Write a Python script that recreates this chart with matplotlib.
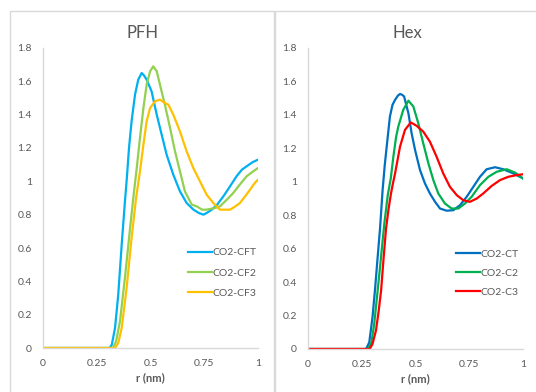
import matplotlib
matplotlib.use("Agg")
import matplotlib.pyplot as plt
from matplotlib.patches import Rectangle

plt.rcParams['font.family'] = ['Lato', 'DejaVu Sans']

TEXT = '#595959'
AXIS = '#d9d9d9'

# ---- PFH panel ----
pfh_title = "PFH"
cft_r = [0, 0.31, 0.32, 0.335, 0.35, 0.366, 0.38, 0.39, 0.40, 0.412, 0.428, 0.443, 0.459, 0.47,
         0.482, 0.505, 0.529, 0.552, 0.575, 0.606, 0.637, 0.668, 0.70, 0.725, 0.746, 0.761,
         0.785, 0.81, 0.839, 0.87, 0.90, 0.925, 0.947, 0.975, 1.0]
cft_g = [0, 0, 0.02, 0.12, 0.32, 0.62, 0.86, 1.02, 1.20, 1.36, 1.52, 1.61, 1.65, 1.635,
         1.61, 1.54, 1.40, 1.28, 1.16, 1.04, 0.94, 0.87, 0.83, 0.81, 0.80, 0.81,
         0.83, 0.86, 0.91, 0.97, 1.03, 1.07, 1.09, 1.115, 1.13]

cf2_r = [0, 0.325, 0.34, 0.358, 0.381, 0.405, 0.42, 0.436, 0.451, 0.467, 0.482, 0.498, 0.513,
         0.529, 0.544, 0.567, 0.591, 0.614, 0.637, 0.66, 0.692, 0.715, 0.74, 0.76, 0.78, 0.80,
         0.823, 0.855, 0.885, 0.915, 0.947, 0.978, 1.0]
cf2_g = [0, 0, 0.04, 0.16, 0.42, 0.72, 0.90, 1.08, 1.26, 1.44, 1.58, 1.66, 1.69,
         1.66, 1.58, 1.46, 1.32, 1.18, 1.06, 0.94, 0.86, 0.85, 0.83, 0.83, 0.835, 0.84,
         0.85, 0.89, 0.93, 0.98, 1.03, 1.06, 1.08]

cf3_r = [0, 0.335, 0.35, 0.366, 0.389, 0.412, 0.433, 0.451, 0.467, 0.482, 0.498, 0.521, 0.544,
         0.567, 0.583, 0.606, 0.637, 0.668, 0.699, 0.73, 0.761, 0.792, 0.823, 0.845, 0.87,
         0.895, 0.916, 0.94, 0.963, 0.985, 1.0]
cf3_g = [0, 0, 0.03, 0.12, 0.36, 0.66, 0.90, 1.06, 1.22, 1.36, 1.44, 1.48, 1.49,
         1.47, 1.46, 1.40, 1.30, 1.18, 1.08, 1.00, 0.92, 0.87, 0.83, 0.83, 0.83,
         0.85, 0.87, 0.91, 0.95, 0.99, 1.01]

# ---- Hex panel ----
hex_title = "Hex"
ct_r = [0, 0.27, 0.285, 0.30, 0.312, 0.324, 0.335, 0.347, 0.357, 0.366, 0.381, 0.393, 0.405,
        0.418, 0.428, 0.438, 0.447, 0.457, 0.467, 0.482, 0.498, 0.521, 0.544, 0.567, 0.591,
        0.614, 0.645, 0.676, 0.707, 0.738, 0.769, 0.80, 0.831, 0.87, 0.908, 0.955, 1.0]
ct_g = [0, 0, 0.04, 0.19, 0.36, 0.55, 0.72, 0.95, 1.10, 1.21, 1.39, 1.46, 1.49,
        1.515, 1.525, 1.52, 1.51, 1.46, 1.41, 1.29, 1.19, 1.07, 0.99, 0.93, 0.88,
        0.84, 0.827, 0.83, 0.86, 0.91, 0.97, 1.03, 1.075, 1.087, 1.075, 1.05, 1.02]

c2_r = [0, 0.28, 0.295, 0.308, 0.32, 0.332, 0.345, 0.355, 0.371, 0.385, 0.397, 0.41, 0.42,
        0.443, 0.467, 0.49, 0.513, 0.536, 0.56, 0.583, 0.606, 0.637, 0.668, 0.699, 0.73,
        0.761, 0.80, 0.839, 0.878, 0.924, 0.963, 1.0]
c2_g = [0, 0, 0.04, 0.15, 0.30, 0.45, 0.62, 0.75, 0.92, 1.02, 1.15, 1.27, 1.33,
        1.43, 1.485, 1.45, 1.35, 1.23, 1.11, 1.01, 0.93, 0.87, 0.84, 0.84, 0.87,
        0.91, 0.98, 1.03, 1.06, 1.075, 1.055, 1.02]

c3_r = [0, 0.287, 0.30, 0.316, 0.328, 0.34, 0.352, 0.363, 0.375, 0.386, 0.395, 0.405, 0.428,
        0.451, 0.478, 0.505, 0.536, 0.567, 0.598, 0.629, 0.66, 0.692, 0.722, 0.753, 0.785,
        0.815, 0.854, 0.893, 0.932, 0.971, 1.0]
c3_g = [0, 0, 0.03, 0.11, 0.22, 0.35, 0.55, 0.72, 0.84, 0.93, 0.99, 1.05, 1.21,
        1.31, 1.355, 1.335, 1.30, 1.24, 1.15, 1.05, 0.97, 0.92, 0.89, 0.88, 0.90,
        0.93, 0.975, 1.01, 1.03, 1.04, 1.045]

x_ticks = [0, 0.25, 0.5, 0.75, 1]
x_tick_labels = ["0", "0.25", "0.5", "0.75", "1"]
y_ticks = [0, 0.2, 0.4, 0.6, 0.8, 1.0, 1.2, 1.4, 1.6, 1.8]
y_tick_labels = ["0", "0.2", "0.4", "0.6", "0.8", "1", "1.2", "1.4", "1.6", "1.8"]
x_label = "r (nm)"

W, H = 536, 392
fig = plt.figure(figsize=(W / 100, H / 100), dpi=100)

# chart-area frames
for x0, x1 in [(10, 274), (275, 545)]:
    fig.patches.append(Rectangle((x0 / W, -0.05), (x1 - x0) / W, (H - 11) / H + 0.05,
                                 transform=fig.transFigure, fill=False,
                                 edgecolor=AXIS, linewidth=1.0))


def style(ax):
    ax.set_xlim(0, 1)
    ax.set_ylim(0, 1.8)
    ax.set_xticks(x_ticks, x_tick_labels)
    ax.set_yticks(y_ticks, y_tick_labels)
    for s in ['top', 'right']:
        ax.spines[s].set_visible(False)
    for s in ['left', 'bottom']:
        ax.spines[s].set_color(AXIS)
        ax.spines[s].set_linewidth(1.0)
    ax.tick_params(axis='both', length=0, labelsize=7.5, labelcolor=TEXT)
    ax.tick_params(axis='y', pad=8)
    ax.tick_params(axis='x', pad=8)
    ax.set_xlabel(x_label, fontsize=8, fontweight='bold', color=TEXT, labelpad=3)
    ax.patch.set_alpha(0)


lw = 1.6
ax1 = fig.add_axes([43 / W, (H - 348) / H, 215 / W, 300 / H])
ax1.plot(cft_r, cft_g, color='#00B0F0', lw=lw, label='CO2-CFT')
ax1.plot(cf2_r, cf2_g, color='#92D050', lw=lw, label='CO2-CF2')
ax1.plot(cf3_r, cf3_g, color='#FFC000', lw=lw, label='CO2-CF3')
style(ax1)
ax1.legend(loc='upper left', bbox_to_anchor=(0.674, 0.333), frameon=False,
           fontsize=7.5, labelcolor=TEXT, handlelength=2.3, handletextpad=0.1,
           labelspacing=1.05, borderpad=0, borderaxespad=0)

ax2 = fig.add_axes([308 / W, (H - 349) / H, 215 / W, 301 / H])
ax2.plot(ct_r, ct_g, color='#0070C0', lw=lw, label='CO2-CT')
ax2.plot(c2_r, c2_g, color='#00B050', lw=lw, label='CO2-C2')
ax2.plot(c3_r, c3_g, color='#FF0000', lw=lw, label='CO2-C3')
style(ax2)
ax2.legend(loc='upper left', bbox_to_anchor=(0.688, 0.330), frameon=False,
           fontsize=7.5, labelcolor=TEXT, handlelength=2.3, handletextpad=0.1,
           labelspacing=0.92, borderpad=0, borderaxespad=0)

fig.text(142 / W, (H - 33) / H, pfh_title, ha='center', va='center', fontsize=12, color=TEXT)
fig.text(407 / W, (H - 33) / H, hex_title, ha='center', va='center', fontsize=12, color=TEXT)

fig.savefig('out.png', dpi=100)
